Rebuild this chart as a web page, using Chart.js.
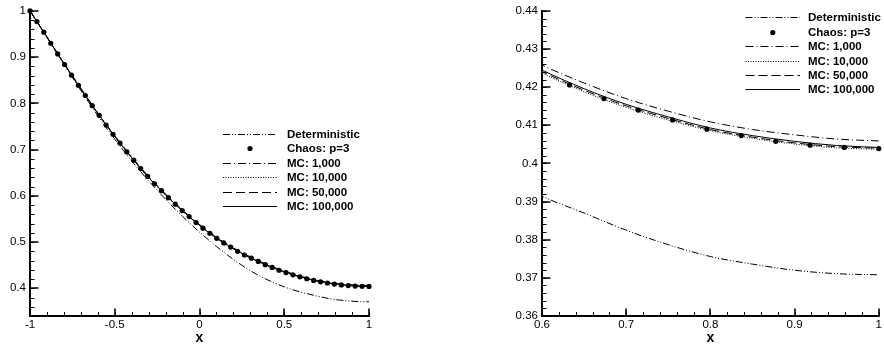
<!DOCTYPE html>
<html lang="en">
<head>
<meta charset="UTF-8">
<title>Deterministic vs Chaos vs MC</title>
<script src="https://cdn.jsdelivr.net/npm/chart.js@4"></script>
<style>
  body { margin: 0; background: #fff; }
  #wrap { position: relative; width: 884px; height: 348px; }
  canvas { position: absolute; top: 0; }
  #left { left: 0; }
  #right { left: 480px; }
</style>
</head>
<body>
<div id="wrap">
  <canvas id="left" width="430" height="348"></canvas>
  <canvas id="right" width="404" height="348"></canvas>
</div>
<script>
// x grid for the line curves
const xLine = [-1, -0.9, -0.8, -0.7, -0.6, -0.5, -0.4, -0.3, -0.2, -0.1, 0, 0.1, 0.2, 0.3, 0.4, 0.5,
               0.6, 0.65, 0.7, 0.75, 0.8, 0.85, 0.9, 0.95, 1];
const deterministic = [1.000, 0.9425, 0.8845, 0.828, 0.7735, 0.7225, 0.6755, 0.6325, 0.5925, 0.5555, 0.5215, 0.4905, 0.4625, 0.438, 0.4185, 0.403,
                       0.3914, 0.3870, 0.3825, 0.3787, 0.3756, 0.3736, 0.3720, 0.3711, 0.3708];
const mc1000 = [1.000, 0.9439, 0.8873, 0.8328, 0.7797, 0.7303, 0.6844, 0.6416, 0.604, 0.5694, 0.538, 0.5106, 0.4874, 0.468, 0.4512, 0.4373,
                0.4258, 0.4211, 0.4170, 0.4137, 0.4109, 0.4089, 0.4075, 0.4064, 0.4059];
const mc10000 = [1.000, 0.9433, 0.8862, 0.8312, 0.7781, 0.7282, 0.6823, 0.6395, 0.6019, 0.5673, 0.5359, 0.5085, 0.4853, 0.4658, 0.4490, 0.4351,
                 0.4237, 0.4188, 0.4147, 0.4114, 0.4086, 0.4066, 0.4051, 0.4041, 0.4037];
const mc50000 = [1.000, 0.9434, 0.8863, 0.8313, 0.7782, 0.7283, 0.6824, 0.6396, 0.602, 0.5674, 0.536, 0.5086, 0.4855, 0.4661, 0.4493, 0.4354,
                 0.4241, 0.4192, 0.4151, 0.4118, 0.4089, 0.4069, 0.4054, 0.4044, 0.4040];
const mc100000 = [1.000, 0.9434, 0.8863, 0.8313, 0.7782, 0.7283, 0.6824, 0.6396, 0.602, 0.5674, 0.5362, 0.5088, 0.4857, 0.4663, 0.4496, 0.4358,
                  0.4245, 0.4196, 0.4155, 0.4122, 0.4093, 0.4073, 0.4058, 0.4047, 0.4042];

// polynomial chaos (p=3) markers
const chaosX = [-1, -0.9592, -0.9184, -0.8776, -0.8367, -0.7959, -0.7551, -0.7143, -0.6735, -0.6327,
                -0.5918, -0.5510, -0.5102, -0.4694, -0.4286, -0.3878, -0.3469, -0.3061, -0.2653, -0.2245,
                -0.1837, -0.1429, -0.1020, -0.0612, -0.0204, 0.0204, 0.0612, 0.1020, 0.1429, 0.1837,
                0.2245, 0.2653, 0.3061, 0.3469, 0.3878, 0.4286, 0.4694, 0.5102, 0.5510, 0.5918,
                0.6327, 0.6735, 0.7143, 0.7551, 0.7959, 0.8367, 0.8776, 0.9184, 0.9592, 1];
const chaosY = [1.000, 0.977, 0.954, 0.930, 0.907, 0.884, 0.861, 0.839, 0.817, 0.795,
                0.774, 0.753, 0.733, 0.714, 0.695, 0.677, 0.659, 0.642, 0.626, 0.611,
                0.596, 0.582, 0.568, 0.555, 0.542, 0.530, 0.519, 0.508, 0.498, 0.489,
                0.480, 0.472, 0.465, 0.458, 0.451, 0.445, 0.439, 0.434, 0.429, 0.4248,
                0.4206, 0.4170, 0.4140, 0.4114, 0.4090, 0.4073, 0.4058, 0.4048, 0.4042, 0.4039];

const seriesNames = ['Deterministic', 'Chaos: p=3', 'MC: 1,000', 'MC: 10,000', 'MC: 50,000', 'MC: 100,000'];

const xTicksLeft = [-1, -0.5, 0, 0.5, 1];
const yTicksLeft = [0.4, 0.5, 0.6, 0.7, 0.8, 0.9, 1];
const xTicksRight = [0.6, 0.7, 0.8, 0.9, 1];
const yTicksRight = [0.36, 0.37, 0.38, 0.39, 0.4, 0.41, 0.42, 0.43, 0.44];

Chart.defaults.font.family = "'Liberation Sans', Arial, sans-serif";
Chart.defaults.font.size = 11.5;
Chart.defaults.color = '#000';

function pts(xs, ys) {
  return xs.map((x, i) => ({ x: x, y: ys[i] }));
}

function curve(name, ys, dash) {
  return {
    label: name, data: pts(xLine, ys), showLine: true,
    borderColor: '#000', borderWidth: 1, borderDash: dash,
    pointRadius: 0, cubicInterpolationMode: 'monotone', fill: false
  };
}

function makeDatasets() {
  return [
    curve(seriesNames[0], deterministic, [7, 2, 1, 2, 1, 2]),
    {
      label: seriesNames[1], data: pts(chaosX, chaosY), showLine: false,
      pointRadius: 2.6, pointBackgroundColor: '#000', pointBorderColor: '#000',
      pointBorderWidth: 0, clip: 6
    },
    curve(seriesNames[2], mc1000, [8, 3, 1, 3]),
    curve(seriesNames[3], mc10000, [1, 1.5]),
    curve(seriesNames[4], mc50000, [9, 4]),
    curve(seriesNames[5], mc100000, [])
  ];
}

const fmt = v => String(Math.round(v * 1000) / 1000);

// axis lines plus inward major/minor ticks (Tecplot look)
const axisDecor = {
  id: 'axisDecor',
  afterDatasetsDraw(chart, args, o) {
    const { ctx, chartArea: a, scales: { x, y } } = chart;
    ctx.save();
    ctx.strokeStyle = '#000';

    function each(scale, step, cb) {
      const n0 = Math.ceil(scale.min / step - 1e-6);
      const n1 = Math.floor(scale.max / step + 1e-6);
      for (let n = n0; n <= n1; n++) cb(n * step);
    }

    ctx.lineWidth = 1;
    ctx.beginPath();
    each(x, o.xMinor, v => {
      const px = Math.round(x.getPixelForValue(v)) + 0.5;
      ctx.moveTo(px, a.bottom); ctx.lineTo(px, a.bottom - 4);
    });
    each(y, o.yMinor, v => {
      const py = Math.round(y.getPixelForValue(v)) + 0.5;
      ctx.moveTo(a.left, py); ctx.lineTo(a.left + 4.5, py);
    });
    ctx.stroke();

    ctx.lineWidth = 1.6;
    ctx.beginPath();
    x.ticks.forEach(t => {
      const px = Math.round(x.getPixelForValue(t.value));
      ctx.moveTo(px, a.bottom); ctx.lineTo(px, a.bottom - 7.5);
    });
    y.ticks.forEach(t => {
      const py = Math.round(y.getPixelForValue(t.value));
      ctx.moveTo(a.left, py); ctx.lineTo(a.left + 8.5, py);
    });
    ctx.stroke();

    ctx.lineWidth = 2;
    ctx.beginPath();
    ctx.moveTo(a.left, a.top - 1);
    ctx.lineTo(a.left, a.bottom);
    ctx.lineTo(a.right + 1, a.bottom);
    ctx.stroke();
    ctx.restore();
  }
};

// legend drawn inside the plot, line sample then bold text
const curveKey = {
  id: 'curveKey',
  afterDraw(chart, args, o) {
    const ctx = chart.ctx;
    ctx.save();
    ctx.font = "bold 11.5px 'Liberation Sans', Arial, sans-serif";
    ctx.textBaseline = 'middle';
    ctx.fillStyle = '#000';
    ctx.strokeStyle = '#000';
    chart.data.datasets.forEach((ds, i) => {
      const yy = Math.round(o.y0 + i * o.step) + 0.5;
      if (ds.showLine) {
        ctx.lineWidth = 1;
        ctx.setLineDash(ds.borderDash || []);
        ctx.beginPath();
        ctx.moveTo(o.x1, yy);
        ctx.lineTo(o.x2, yy);
        ctx.stroke();
      } else {
        ctx.beginPath();
        ctx.arc((o.x1 + o.x2) / 2, yy, 2.6, 0, Math.PI * 2);
        ctx.fill();
      }
      ctx.setLineDash([]);
      ctx.fillText(ds.label, o.tx, yy);
    });
    ctx.restore();
  }
};

function makeChart(id, xr, yr, xTicks, yTicks, yAxisWidth, padRight, decor, key) {
  return new Chart(document.getElementById(id), {
    type: 'scatter',
    data: { datasets: makeDatasets() },
    options: {
      responsive: false,
      animation: false,
      events: [],
      devicePixelRatio: 1,
      layout: { padding: { top: 7, right: padRight, left: 0, bottom: 0 } },
      scales: {
        x: {
          type: 'linear', min: xr[0], max: xr[1],
          afterBuildTicks: s => { s.ticks = xTicks.map(v => ({ value: v })); },
          afterFit: s => { s.height = 32; },
          grid: { display: false, drawTicks: false },
          border: { display: false },
          ticks: { padding: 2, maxRotation: 0, autoSkip: false, callback: fmt },
          title: { display: true, text: 'x', font: { size: 14, weight: 'bold' }, padding: { top: 0, bottom: 1 } }
        },
        y: {
          type: 'linear', min: yr[0], max: yr[1],
          afterBuildTicks: s => { s.ticks = yTicks.map(v => ({ value: v })); },
          afterFit: s => { s.width = yAxisWidth; },
          grid: { display: false, drawTicks: false },
          border: { display: false },
          ticks: { padding: 4, autoSkip: false, callback: fmt }
        }
      },
      plugins: {
        legend: { display: false },
        tooltip: { enabled: false },
        axisDecor: decor,
        curveKey: key
      }
    },
    plugins: [axisDecor, curveKey]
  });
}

makeChart('left', [-1, 1], [0.34, 1], xTicksLeft, yTicksLeft, 30, 61,
  { xMinor: 0.1, yMinor: 0.02 },
  { x1: 223, x2: 277, tx: 287, y0: 134, step: 14.4 });

makeChart('right', [0.6, 1], [0.36, 0.44], xTicksRight, yTicksRight, 62, 3,
  { xMinor: 0.02, yMinor: 0.002 },
  { x1: 265.5, x2: 320, tx: 328, y0: 17.3, step: 14.4 });
</script>
</body>
</html>
